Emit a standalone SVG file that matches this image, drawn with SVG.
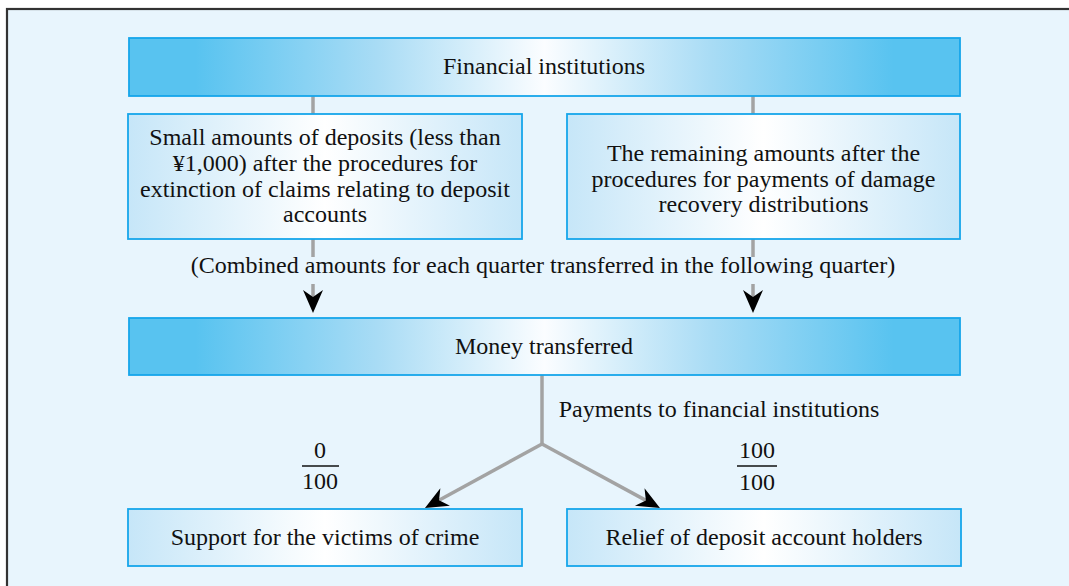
<svg xmlns="http://www.w3.org/2000/svg" width="1069" height="586" viewBox="0 0 1069 586">
  <style>
    text { font-family: "Liberation Serif", "Times New Roman", serif; font-size: 24px; fill: #111; text-anchor: middle; }
    .box { stroke: #16a6ea; stroke-width: 1.8; }
    .head { fill: url(#gradHead); }
    .light { fill: url(#gradLight); }
    .conn { stroke: #a3a3a3; stroke-width: 3.5; fill: none; }
    .arrow { marker-end: url(#arrowHead); }
    .bar { stroke: #111; stroke-width: 1.4; }
  </style>
  <defs>
    <linearGradient id="gradHead" x1="0" y1="0" x2="1" y2="0">
      <stop offset="0" stop-color="#58c3f0"/>
      <stop offset="0.08" stop-color="#58c3f0"/>
      <stop offset="0.3" stop-color="#a9dcf5"/>
      <stop offset="0.5" stop-color="#fbfdff"/>
      <stop offset="0.7" stop-color="#a9dcf5"/>
      <stop offset="0.92" stop-color="#58c3f0"/>
      <stop offset="1" stop-color="#58c3f0"/>
    </linearGradient>
    <linearGradient id="gradLight" x1="0" y1="0" x2="1" y2="0">
      <stop offset="0" stop-color="#c6e6f8"/>
      <stop offset="0.5" stop-color="#ffffff"/>
      <stop offset="1" stop-color="#c6e6f8"/>
    </linearGradient>
    <marker id="arrowHead" markerUnits="userSpaceOnUse" viewBox="-24 -11 26 22" refX="-16" refY="0" markerWidth="26" markerHeight="22" orient="auto">
      <path d="M0,0 L-23,-10 L-16,0 L-23,10 Z" fill="#000"/>
    </marker>
  </defs>

  <!-- panel -->
  <rect x="0" y="0" width="1069" height="586" fill="#ffffff"/>
  <rect x="7" y="9" width="1080" height="600" fill="#e8f5fd" stroke="#333" stroke-width="2.2"/>

  <!-- connectors -->
  <g id="connectors">
    <line class="conn" x1="313" y1="96" x2="313" y2="114"/>
    <line class="conn" x1="753" y1="96" x2="753" y2="114"/>
    <line class="conn" x1="313" y1="239" x2="313" y2="257"/>
    <line class="conn arrow" x1="313" y1="284" x2="313" y2="297"/>
    <line class="conn" x1="753" y1="239" x2="753" y2="257"/>
    <line class="conn arrow" x1="753" y1="284" x2="753" y2="297"/>
    <polyline class="conn" points="542,375 542,444"/>
    <line class="conn arrow" x1="542" y1="444" x2="439" y2="500.3"/>
    <line class="conn arrow" x1="542" y1="444" x2="645.9" y2="500.4"/>
  </g>

  <g id="financial-institutions">
    <rect class="box head" x="129" y="38" width="831" height="58"/>
    <text x="544" y="74">Financial institutions</text>
  </g>

  <g id="small-deposits">
    <rect class="box light" x="128" y="114" width="394" height="125"/>
    <text x="325" y="145">Small amounts of deposits (less than</text>
    <text x="325" y="171">¥1,000) after the procedures for</text>
    <text x="325" y="197">extinction of claims relating to deposit</text>
    <text x="325" y="222">accounts</text>
  </g>

  <g id="remaining-amounts">
    <rect class="box light" x="567" y="114" width="393" height="125"/>
    <text x="763.5" y="161">The remaining amounts after the</text>
    <text x="763.5" y="187">procedures for payments of damage</text>
    <text x="763.5" y="212">recovery distributions</text>
  </g>

  <g id="combined-label">
    <text x="543" y="273">(Combined amounts for each quarter transferred in the following quarter)</text>
  </g>

  <g id="money-transferred">
    <rect class="box head" x="129" y="318" width="831" height="57"/>
    <text x="544" y="354">Money transferred</text>
  </g>

  <g id="payments-label">
    <text x="719" y="417">Payments to financial institutions</text>
  </g>

  <g id="ratio-left">
    <text x="320" y="458">0</text>
    <line class="bar" x1="302" y1="466" x2="339" y2="466"/>
    <text x="320" y="489">100</text>
  </g>

  <g id="ratio-right">
    <text x="757" y="458">100</text>
    <line class="bar" x1="737" y1="466" x2="777" y2="466"/>
    <text x="757" y="490">100</text>
  </g>

  <g id="victims-support">
    <rect class="box light" x="128" y="509" width="394" height="57"/>
    <text x="325" y="545">Support for the victims of crime</text>
  </g>

  <g id="account-holders-relief">
    <rect class="box light" x="567" y="509" width="394" height="57"/>
    <text x="764" y="545">Relief of deposit account holders</text>
  </g>
</svg>
